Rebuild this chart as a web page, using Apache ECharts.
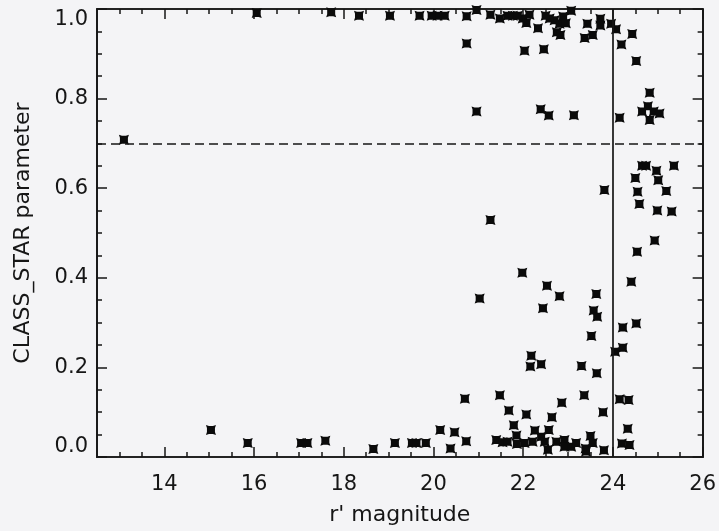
<!DOCTYPE html>
<html><head><meta charset="utf-8">
<script src="https://cdn.jsdelivr.net/npm/echarts@6/dist/echarts.min.js"></script>
<style>html,body{margin:0;padding:0;background:#f4f4f6}#c{width:719px;height:531px}</style>
</head><body><div id="c"></div>
<script>
// r' magnitude of each source
const magnitude = [
  13.10, 15.04, 15.86, 17.05, 17.19, 17.59, 18.66, 19.14, 19.52, 19.62,
  19.83, 20.15, 20.47, 20.38, 20.70, 20.73, 21.03, 20.96, 21.27, 21.40,
  21.48, 21.54, 21.65, 21.68, 21.79, 21.85, 21.86, 21.98, 22.03, 22.07,
  22.16, 22.18, 22.21, 22.26, 22.40, 22.40, 22.44, 22.48, 22.53, 22.55,
  22.57, 22.64, 22.74, 22.81, 22.86, 22.92, 22.92, 23.07, 23.18, 23.30,
  23.36, 23.39, 23.40, 23.50, 23.52, 23.55, 23.57, 23.63, 23.65, 23.64,
  23.78, 23.80, 23.81, 24.05, 24.15, 24.15, 24.35, 24.20, 24.37, 24.33,
  24.22, 24.22, 24.41, 24.52, 24.54, 24.93, 24.99, 25.31, 24.59, 24.55,
  25.19, 24.50, 25.01, 24.97, 24.65, 24.74, 25.36, 24.65, 24.78, 24.82,
  24.82, 24.91, 25.04, 24.52, 24.43, 24.19, 24.07, 22.39, 22.57, 23.13,
  22.03, 22.46, 20.74, 23.37, 23.55, 22.75, 22.83, 22.33, 23.43, 23.72,
  23.72, 23.96, 22.81, 22.95, 22.70, 22.59, 22.50, 22.89, 23.07, 22.07,
  21.99, 22.14, 21.65, 21.77, 21.88, 21.48, 21.27, 20.96, 20.74, 20.25,
  20.09, 19.96, 19.69, 19.03, 18.34, 17.72, 16.06
];
// CLASS_STAR parameter of each source
const classStar = [
  0.708, 0.060, 0.031, 0.031, 0.031, 0.036, 0.018, 0.031, 0.031, 0.031,
  0.031, 0.060, 0.055, 0.019, 0.130, 0.035, 0.354, 0.771, 0.529, 0.038,
  0.138, 0.033, 0.034, 0.104, 0.071, 0.048, 0.029, 0.411, 0.031, 0.095,
  0.202, 0.226, 0.034, 0.059, 0.207, 0.045, 0.332, 0.034, 0.382, 0.016,
  0.060, 0.089, 0.034, 0.359, 0.121, 0.038, 0.023, 0.023, 0.031, 0.203,
  0.138, 0.019, 0.012, 0.047, 0.270, 0.031, 0.327, 0.364, 0.313, 0.187,
  0.100, 0.015, 0.596, 0.235, 0.129, 0.757, 0.127, 0.030, 0.027, 0.063,
  0.289, 0.244, 0.391, 0.298, 0.458, 0.483, 0.550, 0.548, 0.565, 0.592,
  0.594, 0.623, 0.618, 0.639, 0.650, 0.650, 0.650, 0.771, 0.783, 0.813,
  0.752, 0.771, 0.767, 0.884, 0.944, 0.921, 0.955, 0.776, 0.762, 0.763,
  0.907, 0.910, 0.923, 0.935, 0.942, 0.948, 0.942, 0.957, 0.967, 0.978,
  0.963, 0.967, 0.967, 0.968, 0.975, 0.979, 0.985, 0.983, 0.996, 0.969,
  0.979, 0.987, 0.985, 0.985, 0.985, 0.979, 0.987, 0.998, 0.984, 0.985,
  0.985, 0.985, 0.985, 0.985, 0.985, 0.993, 0.991
];
const xMajorTicks = [14, 16, 18, 20, 22, 24, 26];
const xMinorTicks = [13, 13.5, 14.5, 15, 15.5, 16.5, 17, 17.5, 18.5, 19, 19.5,
  20.5, 21, 21.5, 22.5, 23, 23.5, 24.5, 25, 25.5];
const yMajorTicks = [0, 0.2, 0.4, 0.6, 0.8, 1.0];
const yMinorTicks = [0.05, 0.1, 0.15, 0.25, 0.3, 0.35, 0.45, 0.5, 0.55, 0.65,
  0.7, 0.75, 0.85, 0.9, 0.95];
const xRange = [12.5, 26];
const yRange = [0, 1];
const magnitudeLimit = 24;
const starCut = 0.7;

const INK = '#161616';
const FONT = 'DejaVu Sans';

function xAx(pos, ticks, len, withLabels, extra) {
  return Object.assign({
    type: 'value', min: xRange[0], max: xRange[1], position: pos,
    axisLine: { show: true, onZero: false, lineStyle: { color: INK, width: 1.7 } },
    axisTick: { show: true, inside: true, length: len, customValues: ticks,
      lineStyle: { color: INK, width: 1.5 } },
    axisLabel: { show: withLabels, customValues: ticks, margin: 17,
      fontSize: 21, fontFamily: FONT, color: INK },
    splitLine: { show: false }
  }, extra || {});
}
function yAx(pos, ticks, len, withLabels, extra) {
  return Object.assign({
    type: 'value', min: yRange[0], max: yRange[1], position: pos,
    axisLine: { show: true, onZero: false, lineStyle: { color: INK, width: 1.7 } },
    axisTick: { show: true, inside: true, length: len, customValues: ticks,
      lineStyle: { color: INK, width: 1.5 } },
    axisLabel: { show: withLabels, customValues: ticks, margin: 9,
      fontSize: 21, fontFamily: FONT, color: INK,
      formatter: v => v.toFixed(1),
      verticalAlignMinLabel: 'bottom', verticalAlignMaxLabel: 'top' },
    splitLine: { show: false }
  }, extra || {});
}

const chart = echarts.init(document.getElementById('c'), null, { renderer: 'canvas' });
chart.setOption({
  animation: false,
  backgroundColor: '#f4f4f6',
  grid: { left: 97, top: 9, right: 16, bottom: 74, containLabel: false },
  xAxis: [
    xAx('bottom', xMajorTicks, 10, true, {
      name: "r' magnitude", nameLocation: 'middle', nameGap: 47,
      nameTextStyle: { fontSize: 22, fontFamily: FONT, color: INK } }),
    xAx('top', xMajorTicks, 10, false),
    xAx('bottom', xMinorTicks, 5, false),
    xAx('top', xMinorTicks, 5, false)
  ],
  yAxis: [
    yAx('left', yMajorTicks, 10, true, {
      name: 'CLASS_STAR parameter', nameLocation: 'middle', nameGap: 63,
      nameTextStyle: { fontSize: 22, fontFamily: FONT, color: INK } }),
    yAx('right', yMajorTicks, 10, false),
    yAx('left', yMinorTicks, 5, false),
    yAx('right', yMinorTicks, 5, false)
  ],
  series: [{
    type: 'scatter',
    xAxisIndex: 0, yAxisIndex: 0,
    data: magnitude.map((m, i) => [m, classStar[i]]),
    symbol: 'path://M0 0L3 1L7 1L10 0L9 3L9 7L10 10L7 9L3 9L0 10L1 7L1 3Z',
    symbolSize: 10,
    itemStyle: { color: '#0a0a0a', opacity: 1 },
    clip: false,
    markLine: {
      silent: true, symbol: 'none', animation: false,
      label: { show: false },
      data: [
        { xAxis: magnitudeLimit, lineStyle: { type: 'solid', color: INK, width: 1.7 } },
        { yAxis: starCut, lineStyle: { type: [9, 5], color: INK, width: 1.7 } }
      ]
    }
  }]
});
</script>
</body></html>
